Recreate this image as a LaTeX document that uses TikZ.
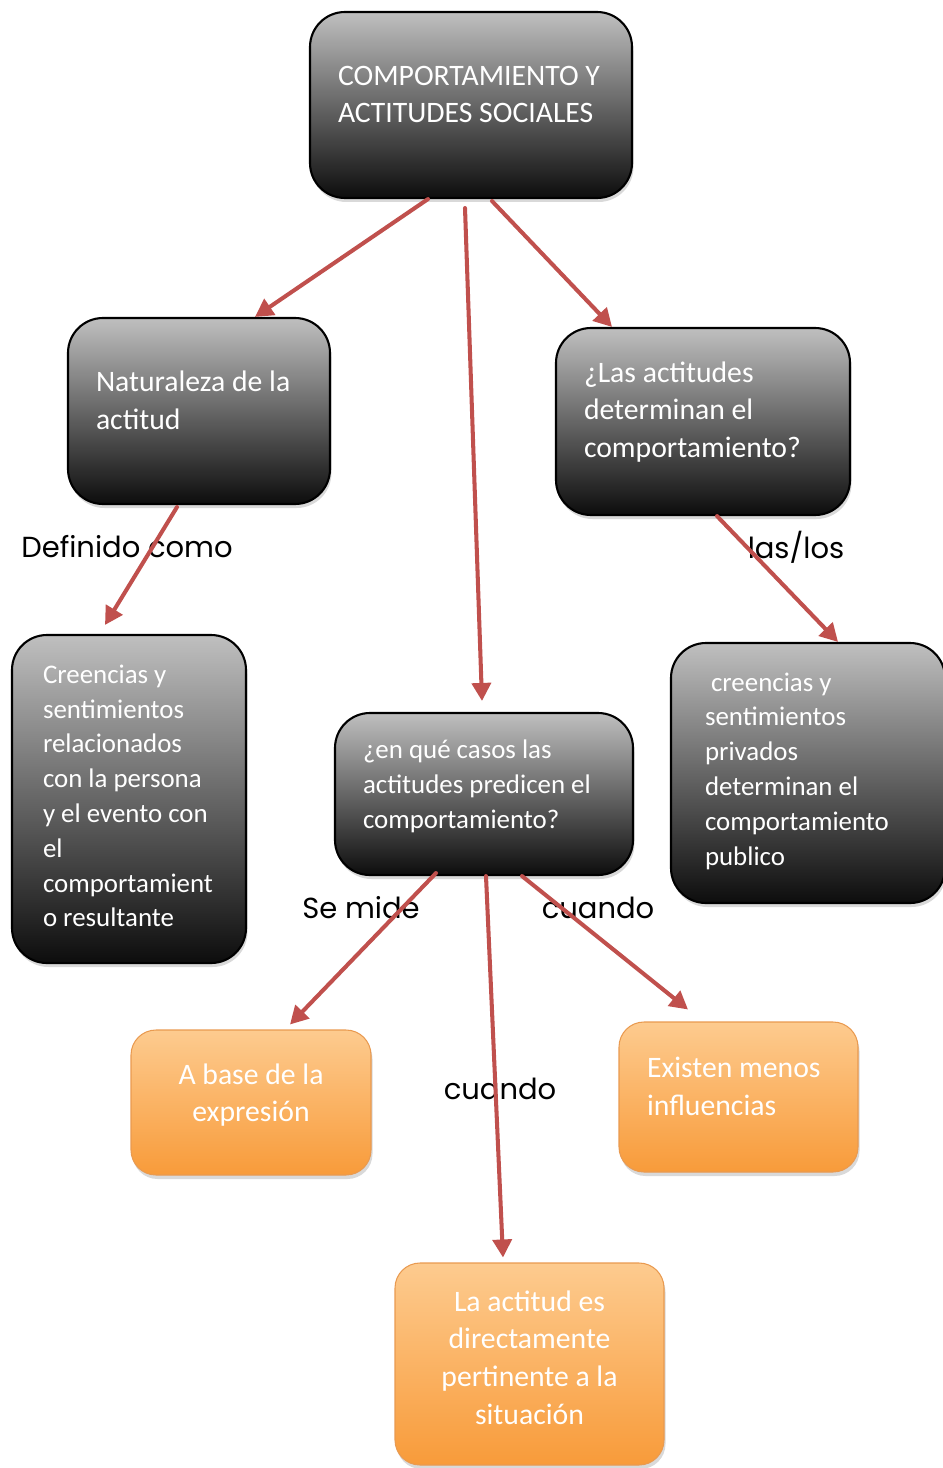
\documentclass[tikz,border=0pt]{standalone}
\usepackage{fontspec}
\setmainfont{Carlito}
\newfontfamily\gothic{Poppins}
\usetikzlibrary{arrows.meta,shadows}
\definecolor{flecha}{HTML}{C0504D}
\definecolor{naranjaA}{HTML}{FDCB8F}
\definecolor{naranjaB}{HTML}{F89B3A}
\definecolor{bordenaranja}{HTML}{E99A50}
\DeclareRobustCommand{\pieaire}[1]{\par\kern#1\relax}
\DeclareRobustCommand{\espacios}{\spaceskip=0.226em\relax\xspaceskip=0.3em\relax}
\DeclareRobustCommand{\letragrande}{\fontsize{16.9}{21.5}\selectfont}
\DeclareRobustCommand{\letrachica}{\fontsize{15.3}{19.8}\selectfont}

\begin{document}
\begin{tikzpicture}[line join=round, line cap=round, >={Triangle[length=0.36cm,width=0.38cm]},
	caja/.style={draw=black, line width=1.2pt, rounded corners=0.7cm, top color=gray!50!white, bottom color=black!95, text=white, align=left, inner xsep=0.56cm, execute at begin node={\espacios}, drop shadow={opacity=0.3, shadow xshift=0.03cm, shadow yshift=-0.08cm}},
	cajanar/.style={draw=bordenaranja, line width=0.6pt, rounded corners=0.5cm, top color=naranjaA, bottom color=naranjaB, text=white, inner xsep=0.56cm, execute at begin node={\espacios}, drop shadow={opacity=0.3, shadow xshift=0.03cm, shadow yshift=-0.08cm}},
	abajo/.style={execute at end node={\pieaire{#1}}},
	grande/.style={font=\letragrande},
	chica/.style={font=\letrachica},
	enlace/.style={font=\gothic\fontsize{16.5}{18}\selectfont},
	flechita/.style={->, draw=flecha, line width=2.3pt}
	]
			\useasboundingbox (0,0) rectangle (18.86,-29.36);
			% cajas negras
			\node[caja, grande, abajo=0.42cm, text width=5.32cm, minimum height=3.72cm] (raiz) at (9.42,-2.10) {COMPORTAMIENTO Y\\ACTITUDES SOCIALES};
			\node[caja, grande, abajo=0.42cm, text width=4.12cm, minimum height=3.72cm] (naturaleza) at (3.98,-8.22) {Naturaleza de la\\actitud};
			\node[caja, grande, abajo=0.38cm, text width=4.76cm, minimum height=3.74cm] (determinan) at (14.06,-8.43) {¿Las actitudes\\determinan el\\comportamiento?};
			\node[caja, chica, abajo=0.12cm, inner xsep=0.62cm, text width=3.44cm, minimum height=6.56cm] (creencias) at (2.58,-15.98) {Creencias y\\sentimientos\\relacionados\\con la persona\\y el evento con\\el\\comportamient\\o resultante};
			\node[caja, chica, abajo=0.08cm, inner xsep=0.68cm, text width=4.12cm, minimum height=5.2cm] (privados) at (16.16,-15.46) {\ creencias y\\sentimientos\\privados\\determinan el\\comportamiento\\publico};
			\node[caja, chica, abajo=0.3cm, text width=4.84cm, minimum height=3.24cm] (casos) at (9.68,-15.88) {¿en qué casos las\\actitudes predicen el\\comportamiento?};
			% cajas naranjas
			\node[cajanar, grande, abajo=0.3cm, align=center, text width=3.68cm, minimum height=2.9cm] (expresion) at (5.02,-22.05) {A base de la\\expresión};
			\node[cajanar, grande, abajo=0.42cm, align=left, text width=3.66cm, minimum height=3.0cm] (influencias) at (14.77,-21.94) {Existen menos\\influencias};
			\node[cajanar, grande, abajo=0.26cm, align=center, text width=4.26cm, minimum height=4.04cm] (situacion) at (10.59,-27.28) {La actitud es\\directamente\\pertinente a la\\situación};
			% textos de enlace
			\path
			(2.54,-10.94) node[enlace] (definido) {Definido como}
			(15.92,-10.94) node[enlace] (laslos) {las/los}
			(7.22,-18.16) node[enlace] (semide) {Se mide}
			(11.96,-18.16) node[enlace] (cuandoA) {cuando}
			(10.0,-21.78) node[enlace] (cuandoB) {cuando}
			;
			% flechas
			\draw[flechita] ([xshift=-0.86cm]raiz.south) -- ([xshift=1.12cm]naturaleza.north);
			\draw[flechita] ([xshift=-0.12cm,yshift=-0.18cm]raiz.south) -- ([xshift=-0.04cm,yshift=0.22cm]casos.north);
			\draw[flechita] ([xshift=0.42cm,yshift=-0.04cm]raiz.south) -- ([xshift=-1.82cm]determinan.north);
			\draw[flechita] ([xshift=-0.44cm,yshift=-0.04cm]naturaleza.south) -- ([xshift=-0.48cm,yshift=0.18cm]creencias.north);
			\draw[flechita] ([xshift=0.28cm]determinan.south) -- ([xshift=0.6cm]privados.north);
			\draw[flechita] ([xshift=-0.96cm,yshift=0.06cm]casos.south) -- ([xshift=0.78cm,yshift=0.1cm]expresion.north);
			\draw[flechita] ([xshift=0.04cm]casos.south) -- ([xshift=-0.53cm,yshift=0.1cm]situacion.north);
			\draw[flechita] ([xshift=0.76cm]casos.south) -- ([xshift=-1.01cm,yshift=0.24cm]influencias.north);
		\end{tikzpicture}
\end{document}
